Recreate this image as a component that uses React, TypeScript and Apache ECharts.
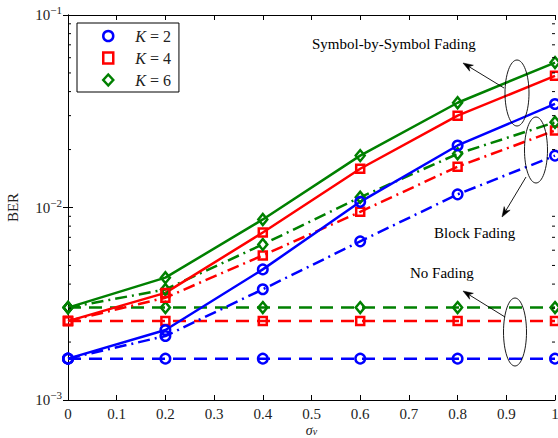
import React, { useEffect, useRef } from "react";
import * as echarts from "echarts";

// ---- data ----
const sigmaV = [0, 0.2, 0.4, 0.6, 0.8, 1];
const kLabels = ["K = 2", "K = 4", "K = 6"];
// Symbol-by-Symbol fading (solid)
const sbsK2 = [0.00164, 0.00231, 0.00477, 0.0107, 0.021, 0.0345];
const sbsK4 = [0.00257, 0.0036, 0.00742, 0.0159, 0.03, 0.0483];
const sbsK6 = [0.00302, 0.00432, 0.00867, 0.0186, 0.035, 0.0566];
// Block fading (dash-dot)
const blkK2 = [0.00164, 0.00215, 0.00376, 0.00667, 0.0117, 0.0186];
const blkK4 = [0.00257, 0.0034, 0.00564, 0.0095, 0.0163, 0.0251];
const blkK6 = [0.00302, 0.00375, 0.00643, 0.0113, 0.019, 0.0277];
// No fading (dashed)
const noK2 = [0.00164, 0.00164, 0.00164, 0.00164, 0.00164, 0.00164];
const noK4 = [0.00257, 0.00257, 0.00257, 0.00257, 0.00257, 0.00257];
const noK6 = [0.00302, 0.00302, 0.00302, 0.00302, 0.00302, 0.00302];
const xTicks = [0, 0.1, 0.2, 0.3, 0.4, 0.5, 0.6, 0.7, 0.8, 0.9, 1];

const BLUE = "#0000ff";
const RED = "#ff0000";
const GREEN = "#008000";
const FONT = "Liberation Serif";

const pairs = (ys: number[]) => sigmaV.map((x, i) => [x, ys[i]]);

const markers = [
  { symbol: "circle", size: 9.5, color: BLUE },
  { symbol: "rect", size: 8, color: RED },
  { symbol: "diamond", size: [9, 11], color: GREEN },
];

function mkSeries(name: string, ys: number[], k: number, kind: "solid" | "dashdot" | "dashed") {
  const m = markers[k];
  const type = kind === "solid" ? "solid" : kind === "dashed" ? [13, 8] : [12, 5, 2, 5];
  return {
    name,
    type: "line",
    data: pairs(ys),
    symbol: m.symbol,
    symbolSize: m.size,
    showAllSymbol: true,
    lineStyle: { color: m.color, width: 2.5, type },
    itemStyle: { color: "rgba(0,0,0,0)", borderColor: m.color, borderWidth: 2.5 },
    emphasis: { disabled: true },
    z: 3,
  };
}

function arrow(x1: number, y1: number, x2: number, y2: number) {
  const ang = Math.atan2(y2 - y1, x2 - x1);
  const L = 10, W = 3.5;
  const bx = x2 - L * Math.cos(ang), by = y2 - L * Math.sin(ang);
  const nx = -Math.sin(ang), ny = Math.cos(ang);
  const mx = x2 - 0.7 * L * Math.cos(ang), my = y2 - 0.7 * L * Math.sin(ang);
  return [
    { type: "line", shape: { x1, y1, x2: mx, y2: my }, style: { stroke: "#000", lineWidth: 0.9 }, z: 10 },
    {
      type: "polygon",
      shape: { points: [[x2, y2], [bx + nx * W, by + ny * W], [mx, my], [bx - nx * W, by - ny * W]] },
      style: { fill: "#000", stroke: "#000", lineWidth: 0.5 },
      z: 10,
    },
  ];
}

function ellipse(cx: number, cy: number, rx: number, ry: number) {
  return { type: "ellipse", shape: { cx, cy, rx, ry }, style: { fill: "none", stroke: "#000", lineWidth: 0.9 }, z: 10 };
}

function label(text: string, x: number, y: number) {
  return {
    type: "text",
    x,
    y,
    style: { text, fill: "#000", font: `15px "${FONT}"`, textAlign: "left", textVerticalAlign: "middle" },
    z: 10,
  };
}

const expLabel = (v: number) => {
  const e = Math.round(Math.log10(v));
  return `{b|10}{s|${e < 0 ? "\u2212" : ""}${Math.abs(e)}}`;
};

export default function App() {
  const ref = useRef<HTMLDivElement>(null);
  useEffect(() => {
    if (!ref.current) return;
    const chart = echarts.init(ref.current, null, { renderer: "svg" });
    const axisLine = { show: true, lineStyle: { color: "#000", width: 1 } };
    const yLabelRich = {
      b: { fontFamily: FONT, fontSize: 15, color: "#222" },
      s: { fontFamily: FONT, fontSize: 11, color: "#222", padding: [0, 0, 10, 0] },
    };
    const option: any = {
      animation: false,
      backgroundColor: "#fff",
      grid: { left: 68, right: 3, top: 15, bottom: 38, containLabel: false, outerBoundsMode: "none" },
      legend: {
        data: [
          { name: kLabels[0], icon: "circle", itemStyle: { color: "#fff", borderColor: BLUE, borderWidth: 2.5 } },
          { name: kLabels[1], icon: "rect", itemStyle: { color: "#fff", borderColor: RED, borderWidth: 2.5 } },
          { name: kLabels[2], icon: "diamond", itemStyle: { color: "#fff", borderColor: GREEN, borderWidth: 2.5 } },
        ],
        orient: "vertical",
        left: 77,
        top: 23,
        padding: [5, 8, 4, 25],
        itemGap: 6,
        itemWidth: 10,
        itemHeight: 11,
        borderColor: "#000",
        borderWidth: 1,
        backgroundColor: "#fff",
        selectedMode: false,
        formatter: (name: string) => `{k|K}{e| = ${name.split("=")[1].trim()}}`,
        textStyle: {
          rich: {
            k: { fontFamily: FONT, fontStyle: "italic", fontSize: 16, color: "#222", padding: [0, 0, 0, 17] },
            e: { fontFamily: FONT, fontSize: 16, color: "#222" },
          },
        },
      },
      xAxis: [
        {
          type: "value",
          min: 0,
          max: 1,
          interval: 0.1,
          position: "bottom",
          axisLine,
          axisTick: { show: true, inside: true, length: 5, lineStyle: { color: "#000" } },
          splitLine: { show: false },
          axisLabel: {
            fontFamily: FONT,
            fontSize: 15,
            color: "#222",
            margin: 6,
            formatter: (v: number) => {
              const t = xTicks.find((x) => Math.abs(x - v) < 1e-9);
              return t === undefined ? "" : String(t);
            },
          },
          name: "{s|σ}{v|v}",
          nameLocation: "middle",
          nameGap: 23,
          nameMoveOverlap: false,
          nameTextStyle: {
            rich: {
              s: { fontFamily: FONT, fontStyle: "italic", fontSize: 14, lineHeight: 14, color: "#222" },
              v: { fontFamily: FONT, fontStyle: "italic", fontSize: 10, lineHeight: 10, color: "#222", padding: [3, 0, 0, 0] },
            },
          },
        },
        {
          type: "value",
          min: 0,
          max: 1,
          interval: 0.1,
          position: "top",
          axisLine,
          axisTick: { show: true, inside: true, length: 5, lineStyle: { color: "#000" } },
          axisLabel: { show: false },
          splitLine: { show: false },
        },
      ],
      yAxis: [
        {
          type: "log",
          logBase: 10,
          min: 0.001,
          max: 0.1,
          position: "left",
          axisLine,
          axisTick: { show: true, inside: true, length: 5, lineStyle: { color: "#000" } },
          splitLine: { show: false },
          minorTick: { show: false },
          axisLabel: { margin: 6, formatter: expLabel, rich: yLabelRich },
          name: "BER",
          nameLocation: "middle",
          nameGap: 48,
          nameRotate: 90,
          nameMoveOverlap: false,
          nameTextStyle: { fontFamily: FONT, fontSize: 15, color: "#222" },
        },
        {
          type: "log",
          logBase: 10,
          min: 0.001,
          max: 0.1,
          position: "right",
          axisLine,
          axisTick: { show: true, inside: true, length: 5, lineStyle: { color: "#000" } },
          splitLine: { show: false },
          axisLabel: { show: false },
        },
      ],
      series: [
        mkSeries("K = 2 no", noK2, 0, "dashed"),
        mkSeries("K = 4 no", noK4, 1, "dashed"),
        mkSeries("K = 6 no", noK6, 2, "dashed"),
        mkSeries("K = 2 blk", blkK2, 0, "dashdot"),
        mkSeries("K = 4 blk", blkK4, 1, "dashdot"),
        mkSeries("K = 6 blk", blkK6, 2, "dashdot"),
        mkSeries(kLabels[0], sbsK2, 0, "solid"),
        mkSeries(kLabels[1], sbsK4, 1, "solid"),
        mkSeries(kLabels[2], sbsK6, 2, "solid"),
      ],
    };
    chart.setOption(option);

    // minor log ticks (2..9 x decade) on left and right axes
    const xl = chart.convertToPixel({ xAxisIndex: 0 }, 0) as number;
    const xr = chart.convertToPixel({ xAxisIndex: 0 }, 1) as number;
    const minor: any[] = [];
    [0.001, 0.01].forEach((d) => {
      for (let m = 2; m <= 9; m++) {
        const y = chart.convertToPixel({ yAxisIndex: 0 }, m * d) as number;
        minor.push({ type: "line", shape: { x1: xl, y1: y, x2: xl + 3, y2: y }, style: { stroke: "#000", lineWidth: 1 }, z: 5 });
        minor.push({ type: "line", shape: { x1: xr, y1: y, x2: xr - 3, y2: y }, style: { stroke: "#000", lineWidth: 1 }, z: 5 });
      }
    });

    const annotations = [
      label("Symbol-by-Symbol Fading", 312, 44),
      ...arrow(504, 88, 463, 63),
      ellipse(517, 93, 12, 33),
      label("Block Fading", 434, 233),
      ...arrow(526, 177, 502, 217),
      ellipse(536, 150, 11.5, 33),
      label("No Fading", 410, 273),
      ...arrow(505, 317, 463, 291),
      ellipse(515, 332, 11.5, 34),
    ];
    chart.setOption({ graphic: [...minor, ...annotations] });

    return () => chart.dispose();
  }, []);

  return <div ref={ref} style={{ position: "absolute", left: 0, top: 0, width: 558, height: 438 }} />;
}
